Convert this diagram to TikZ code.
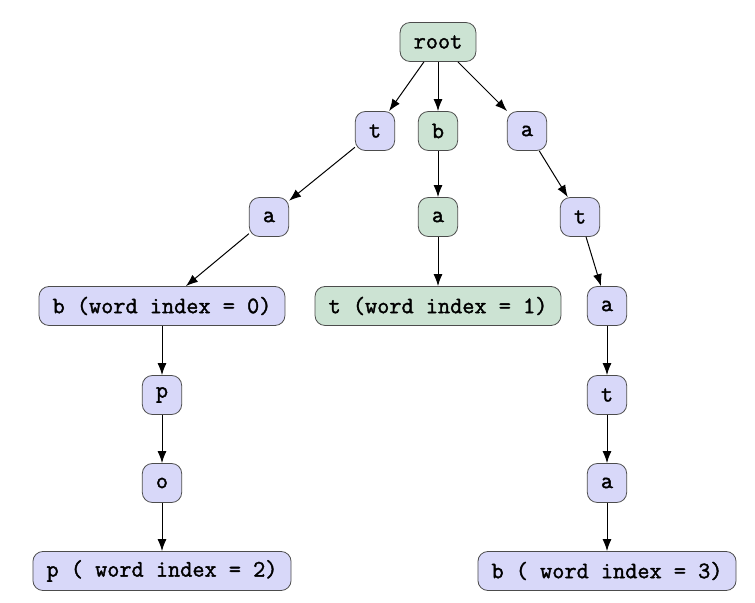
\documentclass[tikz,border=0pt]{standalone}
\usepackage{fontspec}
\setmonofont{Latin Modern Mono}[AutoFakeBold=1.6]
\usetikzlibrary{arrows.meta}
\definecolor{trieblue}{RGB}{216,216,249}
\definecolor{triegreen}{RGB}{204,227,211}
\tikzset{
  trienode/.style={draw=black!70, line width=0.4pt, rounded corners=5pt,
    minimum height=19.5pt, minimum width=19.5pt, inner xsep=6.8pt,
    font=\fontsize{11.8}{13}\ttfamily\bfseries},
  blue/.style={trienode, fill=trieblue},
  green/.style={trienode, fill=triegreen},
  link/.style={-{Latex[length=6pt,width=4.5pt]}, line width=0.5pt}
}
\begin{document}
\begin{tikzpicture}[x=0.5pt,y=-0.5pt]
  \useasboundingbox (0,0) rectangle (755,603);
  \node[green] (root) at (438,42) {root};
  \node[blue]  (t1) at (375,131) {t};
  \node[green] (b1) at (438,131) {b};
  \node[blue]  (a1) at (527,131) {a};
  \node[blue]  (ta) at (269,217) {a};
  \node[green] (ba) at (438,217) {a};
  \node[blue]  (at) at (580,217) {t};
  \node[blue]  (tab) at (162,306) {b (word index = 0)};
  \node[green] (bat) at (438,306) {t (word index = 1)};
  \node[blue]  (ata) at (607,306) {a};
  \node[blue]  (tabp) at (162,395) {p};
  \node[blue]  (atat) at (607,395) {t};
  \node[blue]  (tabpo) at (162,483) {o};
  \node[blue]  (atata) at (607,483) {a};
  \node[blue]  (tabpop) at (162,571) {p ( word index = 2)};
  \node[blue]  (atatab) at (607,571) {b ( word index = 3)};
  % left branch
  \draw[link] (root) -- (t1);
  \draw[link] (t1) -- (ta);
  \draw[link] (ta) -- (tab);
  \draw[link] (tab) -- (tabp);
  \draw[link] (tabp) -- (tabpo);
  \draw[link] (tabpo) -- (tabpop);
  % middle branch
  \draw[link] (root) -- (b1);
  \draw[link] (b1) -- (ba);
  \draw[link] (ba) -- (bat);
  % right branch
  \draw[link] (root) -- (a1);
  \draw[link] (a1) -- (at);
  \draw[link] (at) -- (ata);
  \draw[link] (ata) -- (atat);
  \draw[link] (atat) -- (atata);
  \draw[link] (atata) -- (atatab);
\end{tikzpicture}
\end{document}
